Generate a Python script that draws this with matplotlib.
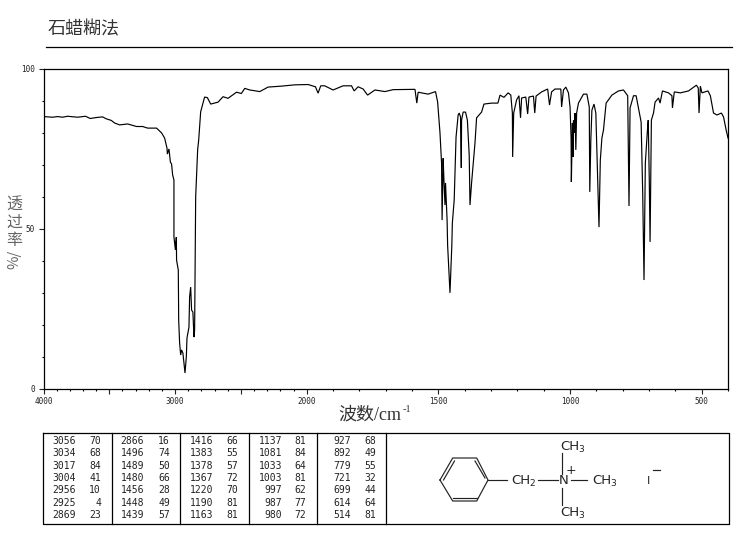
import numpy as np
import matplotlib
matplotlib.use('Agg')
import matplotlib.pyplot as plt
from matplotlib.ticker import FixedLocator, NullFormatter, FixedFormatter

CJK = ['Noto Sans CJK SC', 'DejaVu Sans']
W, H = 737, 539

title = '石蜡糊法'
y_tick_values = [0, 50, 100]
x_tick_values = [4000, 3500, 3000, 2500, 2000, 1500, 1000, 500]
x_tick_labels = ['4000', '', '3000', '', '2000', '1500', '1000', '500']

wavenumber = [4000,3931,3893,3855,3817,3741,3681,3645,3599,3551,3523,3485,3460,3422,3361,3293,3247,3209,3141,
 3103,3080,3062,3059,3047,3036,3027,3019,3009,3009,2998,2991,2989,
 2976,2973,2966,2958,2951,2941,2925,2915,2910,2895,2890,2882,2875,2865,2857,2852,2849,2844,2829,2821,2814,
 2806,2776,2755,2730,2674,2636,2598,2534,2497,2471,2433,2357,2294,2192,2091,1995,1967,1957,1947,1932,1900,1862,
 1830,1820,1805,1786,1769,1741,1703,1672,1589,1582,1577,1539,1511,
 1503,1494,1488,1486,1482,1479,1475,1473,1467,1465,1456,1449,1447,1440,1433,1425,
 1421,1416,1413,1412,1406,1397,1390,1383,1380,1374,1361,1355,1336,1327,1298,1274,1266,1251,1235,1225,1219,1218,
 1214,1203,1194,1188,1184,1168,1161,1156,1139,1134,1129,1108,1085,1078,1070,1057,1035,1032,1025,1016,1006,1000,
 996,995,991,989,987,983,981,978,975,968,949,936,927,925,921,917,909,902,895,890,885,879,873,863,841,816,797,781,
 776,772,759,749,740,730,724,719,714,706,703,699,696,691,683,677,664,658,649,626,613,611,604,581,550,520,513,510,
 505,499,476,467,455,442,425,417,407,400]
transmittance = [85.0,84.8,85.0,84.8,85.1,84.8,85.1,84.4,84.7,84.9,84.3,83.8,83.0,82.4,82.7,81.9,81.9,81.4,81.4,
 79.9,78.3,75.2,73.3,74.9,70.8,70.2,66.8,65.2,47.4,43.4,47.4,40.2,
 37.1,21.5,14.4,10.6,12.2,11.2,5.0,10.0,15.9,19.3,28.7,31.8,24.6,24.0,16.2,18.4,33.4,59.9,74.6,77.7,82.0,
 86.5,91.1,90.9,88.9,89.5,91.2,90.7,92.6,92.2,93.8,93.3,92.8,94.2,94.5,94.9,95.0,94.3,92.3,94.6,94.6,93.3,94.6,
 94.6,93.0,94.3,93.6,91.7,93.3,92.8,93.4,93.5,89.2,92.6,92.0,92.8,
 89.6,79.9,70.5,52.7,72.0,65.2,57.4,64.3,52.7,44.9,30.0,44.9,51.8,59.0,78.6,85.5,
 86.1,84.9,69.0,83.9,86.4,86.4,83.9,73.0,57.4,64.3,76.8,84.6,86.4,88.9,89.2,89.2,91.7,91.0,92.4,91.7,86.1,72.4,
 86.1,90.2,91.5,84.6,90.8,91.1,85.8,91.1,91.4,86.1,91.4,92.7,93.6,88.6,92.7,93.6,93.6,88.0,93.3,94.2,92.4,88.0,
 78.3,64.6,83.0,72.4,83.9,79.9,86.1,74.6,86.1,89.2,92.0,92.0,88.0,61.5,77.7,87.0,88.9,86.1,65.2,50.5,71.4,78.3,80.8,89.2,91.7,93.0,93.3,91.5,
 57.1,87.7,91.5,91.5,87.7,83.3,61.2,34.0,70.5,80.8,83.9,65.2,45.9,83.9,86.1,89.5,90.8,89.2,93.0,92.4,91.5,87.7,92.7,92.4,93.0,94.8,93.9,86.1,
 94.5,92.4,93.0,91.5,86.1,85.5,86.1,84.9,80.8,78.3]

table_wavenumbers = [[3056,3034,3017,3004,2956,2925,2869],[2866,1496,1489,1480,1456,1448,1439],
                     [1416,1383,1378,1367,1220,1190,1163],[1137,1081,1033,1003,997,987,980],
                     [927,892,779,721,699,614,514]]
table_percent = [[70,68,84,41,10,4,23],[16,74,50,66,28,49,57],[66,55,57,72,70,81,81],
                 [81,84,64,81,62,77,72],[68,49,55,32,44,64,81]]

fig = plt.figure(figsize=(W/100, H/100), dpi=100)

def px_axes(x0, y0, x1, y1):
    return fig.add_axes([x0/W, 1-y1/H, (x1-x0)/W, (y1-y0)/H])

def ftext(x, y, s, **kw):
    return fig.text(x/W, 1-y/H, s, **kw)

# overlay in pixel coordinates for table rules and the structure
ov = fig.add_axes([0, 0, 1, 1], zorder=5)
ov.set_xlim(0, W); ov.set_ylim(H, 0); ov.axis('off'); ov.patch.set_alpha(0)

# wavenumber axis: 2000-400 is drawn at twice the scale of 4000-2000
def fwd(v):
    return np.interp(np.asarray(v, float), [400, 2000, 4000], [0, 3.2, 5.2])
def inv(v):
    return np.interp(np.asarray(v, float), [0, 3.2, 5.2], [400, 2000, 4000])

ax = px_axes(43.5, 68.5, 728, 389)
ax.set_xscale('function', functions=(fwd, inv))
ax.set_xlim(4000, 400)
ax.set_ylim(0, 100)
ax.plot(wavenumber, transmittance, color='black', lw=0.85, solid_joinstyle='miter')
for s in ax.spines.values():
    s.set_linewidth(0.9)
ax.xaxis.set_major_locator(FixedLocator(x_tick_values))
ax.xaxis.set_major_formatter(FixedFormatter(x_tick_labels))
ax.xaxis.set_minor_locator(FixedLocator(list(range(4000, 2000, -100)) + list(range(2000, 399, -100))))
ax.yaxis.set_major_locator(FixedLocator(y_tick_values))
ax.yaxis.set_minor_locator(FixedLocator(list(range(0, 101, 10))))
ax.xaxis.set_minor_formatter(NullFormatter())
ax.yaxis.set_minor_formatter(NullFormatter())
ax.tick_params(axis='both', which='major', length=3.6, width=0.8, labelsize=5.5, pad=2.5, colors='#222222')
ax.tick_params(axis='both', which='minor', length=1.7, width=0.8)
for lb in ax.get_xticklabels() + ax.get_yticklabels():
    lb.set_family('DejaVu Sans Mono')

# heading and rule
ftext(48, 29, title, family=CJK, fontsize=13, color='#333333', va='center', ha='left')
ov.plot([46, 732], [47, 47], color='black', lw=0.9)

# axis titles
for ch, yy in zip('透过率', [205.5, 222.5, 240]):
    ftext(14, yy, ch, family=CJK, fontsize=11.5, color='#666666', ha='center', va='center')
ftext(14, 259, '%/', family=CJK, fontsize=10.5, color='#666666', ha='center', va='center', rotation=90)
ftext(338, 415, '波数', family=CJK, fontsize=13, color='#333333', ha='left', va='center')
ftext(374, 415, '/cm', family='Liberation Serif', fontsize=13, color='#333333', ha='left', va='center')
ftext(402.5, 410, '-1', family='Liberation Serif', fontsize=7.5, color='#333333', ha='left', va='center')

# peak table
ov.plot([43.5, 729, 729, 43.5, 43.5], [432.5, 432.5, 524, 524, 432.5], color='black', lw=0.9)
for xd in [112.5, 180.5, 249.5, 317.5, 386.5]:
    ov.plot([xd, xd], [432.5, 524], color='black', lw=0.9)
for i, (wns, pcts) in enumerate(zip(table_wavenumbers, table_percent)):
    xa = [76, 144, 213, 282, 351][i]
    xb = [101, 170, 238, 306, 376][i]
    for j, (a, b) in enumerate(zip(wns, pcts)):
        yy = 441 + j*12.3
        ftext(xa, yy, str(a), family='DejaVu Sans Mono', fontsize=7, color='#222222', ha='right', va='center')
        ftext(xb, yy, str(b), family='DejaVu Sans Mono', fontsize=7, color='#222222', ha='right', va='center')

# structure
lk = dict(color='#222222', lw=0.85)
ov.plot([440, 452.7, 476.7, 488, 476.7, 452.7, 440], [480, 458, 458, 480, 501, 501, 480], **lk)
ov.plot([443.5, 454.5], [480, 461], **lk)
ov.plot([475, 485], [461, 478], **lk)
ov.plot([453, 477], [498, 498], **lk)
ov.plot([488, 507], [480, 480], **lk)
ov.plot([538, 558], [480, 480], **lk)
ov.plot([571, 587], [480, 480], **lk)
ov.plot([562.5, 562.5], [453, 474], **lk)
ov.plot([562.5, 562.5], [488, 505], **lk)
tk = dict(family='DejaVu Sans', fontsize=9.5, color='#222222', va='center')
sk = dict(family='DejaVu Sans', fontsize=6.5, color='#222222', va='center', ha='left')
ftext(560, 447, 'CH', ha='left', **tk); ftext(578.5, 450, '3', **sk)
ftext(560, 513, 'CH', ha='left', **tk); ftext(578.5, 516, '3', **sk)
ftext(511, 480, 'CH', ha='left', **tk); ftext(529.5, 483, '2', **sk)
ftext(592, 480, 'CH', ha='left', **tk); ftext(610.5, 483, '3', **sk)
ftext(564, 480, 'N', ha='center', **tk)
ftext(571, 470.5, '+', ha='center', family='DejaVu Sans', fontsize=9, color='#222222', va='center')
ftext(649, 481, 'I', ha='center', family='DejaVu Sans', fontsize=8, color='#222222', va='center')
ov.plot([653, 660], [470, 470], **lk)

fig.savefig('out.png', dpi=100)
